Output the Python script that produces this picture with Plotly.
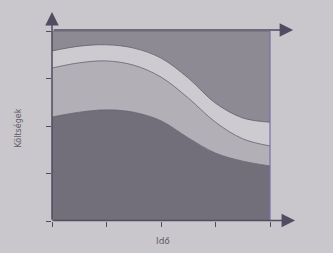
import plotly.graph_objects as go

# Data
ido = [0, 0.5, 1, 1.5, 2, 2.5, 3, 3.5, 4]
reteg_also = [2.19, 2.29, 2.34, 2.29, 2.11, 1.75, 1.43, 1.26, 1.16]
reteg_masodik = [1.03, 1.04, 1.03, 0.99, 0.92, 0.84, 0.65, 0.47, 0.42]
reteg_harmadik = [0.36, 0.35, 0.34, 0.36, 0.40, 0.42, 0.40, 0.44, 0.50]
reteg_felso = [0.42, 0.32, 0.29, 0.36, 0.57, 0.99, 1.52, 1.83, 1.92]
x_ticks = [0, 1, 2, 3, 4]
y_ticks = [0, 1, 2, 3, 4]

bg = "rgb(201,199,203)"
edge = "rgb(80,76,98)"
layers = [
    (reteg_also, "rgb(114,110,122)"),
    (reteg_masodik, "rgb(178,176,182)"),
    (reteg_harmadik, "rgb(205,203,208)"),
    (reteg_felso, "rgb(141,138,147)"),
]

fig = go.Figure()
for vals, col in layers:
    fig.add_trace(go.Scatter(
        x=ido, y=vals, stackgroup="s", mode="lines",
        line=dict(shape="spline", smoothing=1.0, color="rgb(100,96,110)", width=0.8),
        fillcolor=col, hoverinfo="skip", showlegend=False))

fig.update_layout(
    width=333, height=253,
    margin=dict(l=52, r=63, t=31, b=32),
    paper_bgcolor=bg, plot_bgcolor=bg,
    font=dict(family="DejaVu Sans, sans-serif", size=9, color="rgb(95,90,105)"),
    xaxis=dict(range=[0, 4], showgrid=False, zeroline=False, showline=False,
               tickmode="array", tickvals=x_ticks, ticktext=["" for _ in x_ticks],
               ticks="outside", ticklen=5, tickwidth=1.2, tickcolor=edge),
    yaxis=dict(range=[0, 4], showgrid=False, zeroline=False, showline=False,
               tickmode="array", tickvals=y_ticks, ticktext=["" for _ in y_ticks],
               ticks="outside", ticklen=5, tickwidth=1.2, tickcolor=edge),
)

# right edge line
fig.add_shape(type="line", xref="paper", yref="paper", x0=1, x1=1, y0=0, y1=1,
              line=dict(color="rgb(120,112,170)", width=1.2))

# axis arrows
def arrow(x, y, ax, ay):
    fig.add_annotation(x=x, y=y, xref="paper", yref="paper", ax=ax, ay=ay,
                       axref="pixel", ayref="pixel", text="", showarrow=True,
                       arrowhead=2, arrowsize=1.8, arrowwidth=1.5, arrowcolor=edge)

arrow(0, 1.10, 0, 209)
arrow(1.106, 1.005, -241, 0)
arrow(1.115, 0.003, -243, 0)

fig.add_annotation(x=-0.19, y=0.49, xref="paper", yref="paper", text="Költségek",
                   textangle=-90, showarrow=False, font=dict(size=8))
fig.add_annotation(x=0.51, y=-0.14, xref="paper", yref="paper", text="Idő",
                   showarrow=False, font=dict(size=9))

fig.write_html("out.html", config={"displayModeBar": False},
               post_script="document.body.style.margin='0';"
                           "document.body.style.background='rgb(201,199,203)';")
